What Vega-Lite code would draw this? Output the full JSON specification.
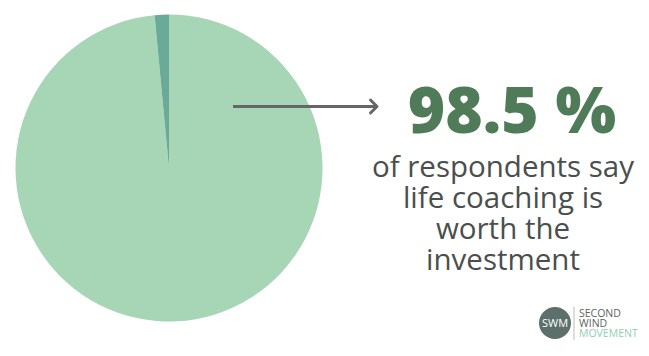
{
  "$schema": "https://vega.github.io/schema/vega-lite/v6.json",
  "width": 649,
  "height": 356,
  "autosize": {"type": "fit", "contains": "padding"},
  "padding": 0,
  "background": "white",
  "config": {"view": {"stroke": null}},
  "layer": [
    {
      "data": {"values": [
        {"answer": "Worth the investment", "share": 98.5},
        {"answer": "Not worth the investment", "share": 1.5}
      ]},
      "mark": {"type": "arc", "x": 169, "y": 168, "outerRadius": 153.5},
      "encoding": {
        "theta": {"field": "share", "type": "quantitative", "stack": true},
        "order": {"field": "share", "sort": "descending"},
        "color": {
          "field": "answer", "type": "nominal", "legend": null,
          "scale": {"domain": ["Worth the investment", "Not worth the investment"], "range": ["#a7d6b6", "#6aaa98"]}
        }
      }
    },
    {
      "data": {"values": [{}]},
      "mark": {"type": "rule", "color": "#666666", "strokeWidth": 3},
      "encoding": {"x": {"value": 233}, "x2": {"value": 376}, "y": {"value": 106.5}}
    },
    {
      "data": {"values": [{}]},
      "mark": {"type": "point", "shape": "M -1 -1 L 0 0 L -1 1", "x": 377, "y": 106.5, "size": 169, "filled": false, "stroke": "#666666", "strokeWidth": 3, "opacity": 1, "strokeCap": "round", "strokeJoin": "round"},
      "encoding": {}
    },
    {
      "data": {"values": [{}]},
      "mark": {"type": "text", "text": "98.5 %", "x": 512, "y": 133, "align": "center", "baseline": "alphabetic", "font": "Open Sans", "fontWeight": 800, "fontSize": 64, "color": "#507b58"},
      "encoding": {}
    },
    {
      "data": {"values": [{}]},
      "mark": {"type": "text", "text": ["of respondents say", "life coaching is", "worth the", "investment"], "x": 503, "y": 177, "align": "center", "baseline": "alphabetic", "lineHeight": 31, "font": "Open Sans", "fontSize": 29.5, "color": "#4a4f4d"},
      "encoding": {}
    },
    {
      "data": {"values": [{}]},
      "mark": {"type": "point", "shape": "circle", "x": 555, "y": 323, "size": 1024, "filled": true, "color": "#5d6f6b", "opacity": 1},
      "encoding": {}
    },
    {
      "data": {"values": [{}]},
      "mark": {"type": "text", "text": "SWM", "x": 555, "y": 327, "align": "center", "baseline": "alphabetic", "font": "Open Sans", "fontSize": 11, "color": "white"},
      "encoding": {}
    },
    {
      "data": {"values": [{}]},
      "mark": {"type": "rule", "color": "#bbbbbb", "strokeWidth": 1},
      "encoding": {"x": {"value": 574}, "y": {"value": 307}, "y2": {"value": 340}}
    },
    {
      "data": {"values": [{}]},
      "mark": {"type": "text", "text": ["SECOND", "WIND"], "x": 579, "y": 317, "align": "left", "baseline": "alphabetic", "lineHeight": 10, "font": "Open Sans", "fontSize": 10.5, "color": "#5b6461"},
      "encoding": {}
    },
    {
      "data": {"values": [{}]},
      "mark": {"type": "text", "text": "MOVEMENT", "x": 579, "y": 337, "align": "left", "baseline": "alphabetic", "font": "Open Sans", "fontSize": 10.5, "color": "#8fd0b0"},
      "encoding": {}
    }
  ]
}
